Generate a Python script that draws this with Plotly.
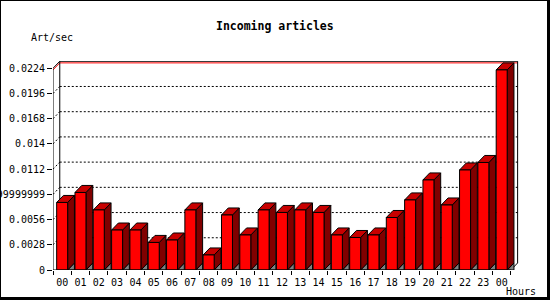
import plotly.graph_objects as go

# ---------------- data ----------------
hours = ["00", "01", "02", "03", "04", "05", "06", "07", "08", "09", "10", "11",
         "12", "13", "14", "15", "16", "17", "18", "19", "20", "21", "22", "23", "00"]
art_per_sec = [0.00750, 0.00861, 0.00667, 0.00444, 0.00444, 0.00306, 0.00333,
               0.00667, 0.00167, 0.00611, 0.00389, 0.00667, 0.00639, 0.00667,
               0.00639, 0.00389, 0.00361, 0.00389, 0.00583, 0.00778, 0.01000,
               0.00722, 0.01111, 0.01194, 0.02222]
y_tick_vals = [0, 0.0028, 0.0056, 0.0084, 0.0112, 0.014, 0.0168, 0.0196, 0.0224]
y_tick_text = ["0", "0.0028", "0.0056", "0.008399999999999999", "0.0112",
               "0.014", "0.0168", "0.0196", "0.0224"]
title_text = "Incoming articles"
y_title = "Art/sec"
x_title = "Hours"

# ---------------- geometry / style ----------------
W, H = 550, 300
ML, MR, MT, MB = 53, 30, 61, 30
X0, X1 = -0.5, 25.0
YMAX = 0.02321
HALF = 0.3          # half width of the front face (category units)
DX = 0.37           # 3D depth in x (category units)
DY = 0.00078        # 3D depth in y (value units)
FONT = "DejaVu Sans Mono"

n = len(hours)
xs = list(range(n))
ymax_tick = y_tick_vals[-1]
vmax = max(art_per_sec)

def px_x(px):
    return (px - ML) / (W - ML - MR)

def px_y(py):
    return (H - MB - py) / (H - MT - MB)

front_x, front_y = [], []
top_x, top_y = [], []
side_x, side_y = [], []
shad_x, shad_y = [], []
for i, v in zip(xs, art_per_sec):
    a, b = i - HALF, i + HALF
    front_x += [a, b, b, a, a, None]
    front_y += [0, 0, v, v, 0, None]
    top_x += [a, b, b + DX, a + DX, a, None]
    top_y += [v, v, v + DY, v + DY, v, None]
    side_x += [b, b + DX, b + DX, b, b, None]
    side_y += [0, DY, v + DY, v, 0, None]
    shad_x += [b, b + DX, b + DX, b, None]
    shad_y += [0, 0, DY, 0, None]

fig = go.Figure()

def poly(x, y, fill, name):
    fig.add_trace(go.Scatter(x=x, y=y, mode="lines", fill="toself", fillcolor=fill,
                             line=dict(color="black", width=1), hoverinfo="skip",
                             name=name, showlegend=False))

poly(shad_x, shad_y, "#808080", "floor")
poly(side_x, side_y, "#800000", "side")
poly(top_x, top_y, "#c80000", "top")
poly(front_x, front_y, "#ff0000", "front")

shapes = []
line_k = dict(color="black", width=1)
dotted = dict(color="black", width=1, dash="2px,2px")
xb_left = X0 + DX
xb_right = (n - 0.5) + DX

# grid lines on back plane + diagonal connectors
for v in y_tick_vals[1:-1]:
    shapes.append(dict(type="line", xref="x", yref="y", x0=xb_left, x1=xb_right,
                       y0=v + DY, y1=v + DY, line=dotted, layer="below"))
for v in y_tick_vals[1:-1]:
    shapes.append(dict(type="line", xref="x", yref="y", x0=X0, x1=xb_left,
                       y0=v, y1=v + DY, line=dotted, layer="below"))
# max value red line
shapes.append(dict(type="path", xref="x", yref="y",
                   path=f"M {X0} {vmax} L {xb_left} {vmax + DY} L {xb_right} {vmax + DY}",
                   line=dict(color="red", width=1), layer="below"))
# back plane frame
shapes.append(dict(type="path", xref="x", yref="y",
                   path=(f"M {xb_left} {DY} L {xb_left} {ymax_tick + DY} "
                         f"L {xb_right} {ymax_tick + DY} L {xb_right} {DY}"),
                   line=line_k, layer="below"))
# top-left diagonal and bottom-right floor diagonal
shapes.append(dict(type="line", xref="x", yref="y", x0=X0, x1=xb_left,
                   y0=ymax_tick, y1=ymax_tick + DY, line=line_k, layer="below"))
shapes.append(dict(type="line", xref="x", yref="y", x0=n - 0.5, x1=xb_right,
                   y0=0, y1=DY, line=line_k, layer="below"))
# front axes
shapes.append(dict(type="line", xref="x", yref="y", x0=X0, x1=X0,
                   y0=0, y1=ymax_tick, line=line_k))
shapes.append(dict(type="line", xref="x", yref="y", x0=X0, x1=n - 0.5,
                   y0=0, y1=0, line=line_k))

# image frame (1px top/left, 3px right/bottom)
for (xa, xb_, ya, yb) in [(0, 1, 0, 300), (0, 550, 0, 1), (547, 550, 0, 300), (0, 550, 297, 300)]:
    shapes.append(dict(type="rect", xref="paper", yref="paper",
                       x0=px_x(xa), x1=px_x(xb_), y0=px_y(yb), y1=px_y(ya),
                       fillcolor="black", line=dict(width=0)))

annotations = [
    dict(text=f"<b>{title_text}</b>", xref="paper", yref="paper", x=px_x(275), y=px_y(26),
         xanchor="center", yanchor="middle", showarrow=False,
         font=dict(family=FONT, size=11.5, color="black")),
    dict(text=y_title, xref="paper", yref="paper", x=px_x(29), y=px_y(37),
         xanchor="left", yanchor="middle", showarrow=False,
         font=dict(family=FONT, size=10, color="black")),
    dict(text=x_title, xref="paper", yref="paper", x=px_x(504), y=px_y(291),
         xanchor="left", yanchor="middle", showarrow=False,
         font=dict(family=FONT, size=10, color="black")),
]

fig.update_layout(
    template="none",
    width=W, height=H,
    margin=dict(l=ML, r=MR, t=MT, b=MB, pad=0),
    paper_bgcolor="white", plot_bgcolor="white",
    showlegend=False,
    shapes=shapes,
    annotations=annotations,
    font=dict(family=FONT, size=10, color="black"),
    xaxis=dict(range=[X0, X1], showgrid=False, zeroline=False, showline=False,
               tickmode="array", tickvals=xs, ticktext=hours, ticks="",
               ticklabelstandoff=5,
               tickfont=dict(family=FONT, size=10, color="black"),
               minor=dict(tickmode="linear", tick0=-0.5, dtick=1, ticks="outside",
                          ticklen=4, tickcolor="black", tickwidth=1, showgrid=False),
               automargin=False, fixedrange=True),
    yaxis=dict(range=[0, YMAX], showgrid=False, zeroline=False, showline=False,
               tickmode="array", tickvals=y_tick_vals, ticktext=y_tick_text,
               ticks="outside", ticklen=5, tickcolor="black", tickwidth=1,
               tickfont=dict(family=FONT, size=10, color="black"),
               automargin=False, fixedrange=True),
)

fig.write_html("out.html", config={"displayModeBar": False})
